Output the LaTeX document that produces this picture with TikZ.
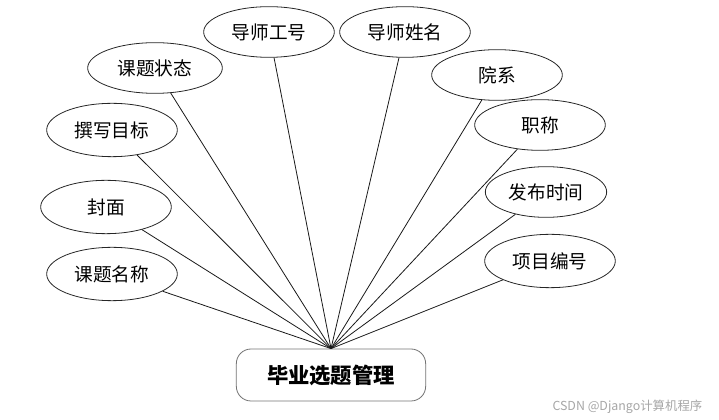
\documentclass[tikz,border=0pt]{standalone}
\usepackage{fontspec}
\setmainfont{Liberation Serif}
\newfontfamily\cjk{Noto Sans CJK SC}
\usetikzlibrary{shapes.geometric}
\tikzset{%
  attr/.style   = {shape=ellipse, draw=black!85, line width=0.6pt,%
                   inner sep=0pt, minimum width=98pt, minimum height=38pt,%
                   font=\cjk\fontsize{14}{16}\selectfont},%
  entity/.style = {shape=rectangle, rounded corners=11pt, draw=black!55,%
                   line width=0.6pt, minimum width=142pt, minimum height=39pt,%
                   font=\cjk\bfseries\fontsize{16}{19}\selectfont},%
  link/.style   = {draw=black!90, line width=0.6pt}%
}

\begin{document}
\begin{tikzpicture}[x=0.75pt,y=-0.75pt]
	\useasboundingbox (0,0) rectangle (719,420);
	\node [entity] (sys) at (331,375) {毕业选题管理};
	% left side
	\node [attr] (gh) at (269,32) {导师工号};
	\node [attr, minimum width=101pt] (zt) at (155,68) {课题状态};
	\node [attr, minimum height=40pt] (mb) at (112,130) {撰写目标};
	\node [attr, minimum height=40pt] (fm) at (106,207) {封面};
	\node [attr, minimum height=40pt] (mc) at (112,274) {课题名称};
	% right side
	\node [attr] (xm) at (405,32) {导师姓名};
	\node [attr] (yx) at (497,75) {院系};
	\node [attr] (zc) at (540,125) {职称};
	\node [attr, minimum width=91pt] (sj) at (546,192) {发布时间};
	\node [attr, minimum height=40pt] (bh) at (550,261) {项目编号};
	\foreach \n in {mc,fm,mb,zt,gh,xm,yx,zc,sj,bh}
		\draw [link] (sys.north) -- (\n);
	\node [font=\cjk\fontsize{9.3}{11}\selectfont, text=black!35, anchor=east] (wm) at (707,407) {CSDN @Django计算机程序};
\end{tikzpicture}
\end{document}
